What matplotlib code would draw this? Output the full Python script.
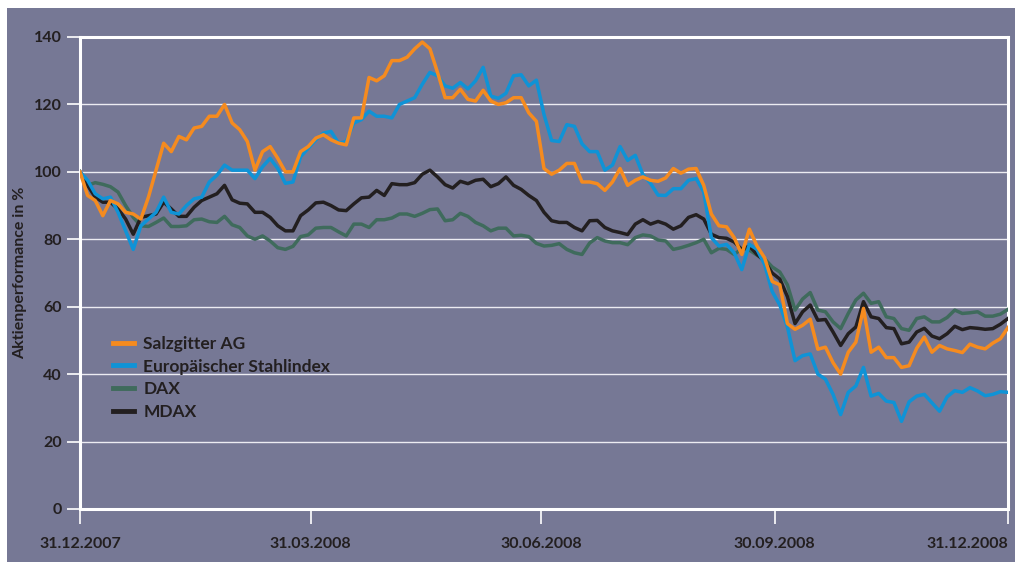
import numpy as np
import matplotlib.pyplot as plt
from matplotlib.patches import Rectangle

# trading grid: every 3rd calendar day from 31.12.2007 to 31.12.2008
days = np.arange(0, 367, 3)
dates = np.datetime64('2007-12-31') + days.astype('timedelta64[D]')

salzgitter = [
    100, 93, 91.5, 87, 91.5, 90.5, 88, 87.5, 86, 92.5, 100.5, 108.5, 106, 110.5, 109.5, 113,
    113.5, 116.5, 116.5, 120, 114.5, 112.5, 109, 100.5, 106, 107.5, 104, 100, 100, 106, 107.5,
    110, 111, 109.5, 108.5, 108, 116, 116, 128, 127, 128.5, 133, 133, 134, 136.5, 138.5,
    136.5, 129.5, 122, 122, 124.5, 121.5, 121, 124.2, 121, 120, 120.5, 122, 122, 117.5, 115,
    101, 99.3, 100.5, 102.5, 102.5, 97, 97, 96.5, 94.5, 97, 101, 96, 97.5, 98.5, 97.5,
    97.2, 98.2, 101, 99.6, 100.8, 101, 96, 87.5, 84, 83.7, 80.5, 75.5, 83, 78, 74.5,
    67.5, 66.5, 55, 53.3, 54.5, 56.3, 47.4, 48, 43.4, 40, 46.5, 49.5, 59.5, 46.5, 48,
    44.9, 44.9, 42, 42.5, 47.7, 51, 46.5, 48.5, 47.5, 47, 46.4, 48.9, 48, 47.5, 49.2, 50.5, 53.8]

stahlindex = [
    100, 97.5, 93.5, 92, 92.5, 88, 82.5, 77, 84, 86, 88, 92.5, 88, 87.5, 90, 92,
    92.5, 97, 99, 102, 100.5, 100.5, 100.5, 98, 101.5, 104, 101, 96.6, 97, 104.5, 107,
    109.5, 111.5, 112, 108.5, 109, 114.5, 115.5, 118, 116.5, 116.5, 116, 120, 121, 122, 126,
    129.5, 128.5, 125.5, 124.8, 126.5, 124.6, 127, 131, 122.5, 121.8, 123.3, 128.5, 128.8, 125.5, 127.2,
    117, 109.3, 109, 114, 113.5, 108.3, 106, 106, 100.5, 102, 107.5, 103.4, 104.9, 99.2, 96.6,
    93.1, 93, 95, 95, 97.5, 98, 94, 80.5, 78, 78.5, 76, 71, 78.5, 77, 72.5,
    64.5, 60.5, 54, 44, 45.5, 46, 40, 38.5, 34, 28, 34.6, 36.5, 42, 33.5, 34.3,
    32, 31.6, 26, 31.8, 33.5, 34, 31.5, 29, 33.3, 35.1, 34.6, 36, 35, 33.6, 34, 34.8, 34.6]

dax = [
    100, 96, 96.8, 96.3, 95.6, 94, 90, 86.5, 84, 83.8, 85, 86.3, 83.8, 83.8, 84, 85.8,
    86, 85.2, 85, 86.8, 84.3, 83.5, 81, 80, 81, 79.5, 77.5, 77, 77.9, 80.8, 81.3,
    83.3, 83.5, 83.5, 82.2, 81, 84.5, 84.5, 83.5, 85.8, 85.8, 86.3, 87.5, 87.5, 86.8, 87.7,
    88.8, 89, 85.5, 85.8, 87.7, 86.8, 85, 84, 82.5, 83.3, 83.3, 81, 81.2, 80.8, 78.8,
    78, 78.2, 78.7, 77, 76, 75.5, 78.9, 80.5, 79.5, 79, 79, 78.4, 80.5, 81.3, 81,
    79.8, 79.5, 77, 77.5, 78.2, 79, 80, 76, 77.3, 77, 75.5, 77.2, 76.8, 75.3, 74.2,
    71.8, 70.3, 66.5, 59, 62.3, 64.2, 59, 58.5, 55.5, 53.5, 58, 62, 64, 61, 61.5,
    57, 56.5, 53.5, 53, 56.5, 57, 55.5, 55.5, 56.8, 59, 58, 58.2, 58.5, 57.2, 57.2, 57.8, 59.2]

mdax = [
    100, 96, 92.5, 91, 91, 89, 86, 81.5, 86.5, 87, 87.5, 91, 89, 86.8, 86.8, 89.5,
    91.5, 92.5, 93.5, 96, 91.7, 90.7, 90.5, 88, 88, 86.5, 84, 82.5, 82.5, 87, 88.7,
    90.8, 91, 90, 88.7, 88.5, 90.5, 92.3, 92.5, 94.5, 93, 96.5, 96.2, 96.2, 96.8, 99.3,
    100.5, 98.5, 96.2, 95.2, 97.2, 96.5, 97.5, 97.8, 95.6, 96.5, 98.5, 96, 94.8, 93, 91.5,
    88, 85.5, 85, 85, 83.5, 82.5, 85.5, 85.6, 83.5, 82.5, 82, 81.4, 84.5, 85.8, 84.5,
    85.3, 84.5, 83, 84, 86.5, 87.3, 86, 81.5, 80.5, 80.3, 79.2, 77, 78, 75.5, 73.5,
    70, 68.2, 63, 55, 58.5, 60.5, 56, 56.2, 52.5, 48.5, 52, 54, 61.5, 57, 56.5,
    53.8, 53.5, 49, 49.5, 52.5, 53.6, 51.3, 50.5, 52, 54.2, 53.2, 53.8, 53.6, 53.3, 53.5, 54.8, 56.5]

tick_dates = ['2007-12-31', '2008-03-31', '2008-06-30', '2008-09-30', '2008-12-31']
tick_labels = ['31.12.2007', '31.03.2008', '30.06.2008', '30.09.2008', '31.12.2008']

bg = '#767895'
txt = '#231f20'
plt.rcParams['font.family'] = ['Lato', 'DejaVu Sans']

fig = plt.figure(figsize=(10.15, 5.62), dpi=100, facecolor='white')
fig.patches.append(Rectangle((7 / 1015, 0), 1, 554 / 562, transform=fig.transFigure,
                             facecolor=bg, edgecolor='none', zorder=-10))
ax = fig.add_axes([80 / 1015, 53 / 562, 928 / 1015, 472 / 562])
ax.set_facecolor(bg)

ax.plot(dates, dax, color='#3f6b5c', lw=2.5, label='DAX', zorder=3)
ax.plot(dates, mdax, color='#231f20', lw=2.5, label='MDAX', zorder=4)
ax.plot(dates, stahlindex, color='#0f93d6', lw=2.5, label='Europäischer Stahlindex', zorder=5)
ax.plot(dates, salzgitter, color='#f58b1f', lw=2.5, label='Salzgitter AG', zorder=6)

ax.set_ylim(0, 140)
ax.set_xlim(np.datetime64('2007-12-31'), np.datetime64('2008-12-31'))
ax.set_yticks(range(0, 141, 20))
ax.set_xticks([np.datetime64(d) for d in tick_dates])
ax.set_xticklabels(tick_labels)
ax.grid(axis='y', color='#ececf2', lw=1.0, zorder=1)
ax.set_axisbelow(True)

for s in ax.spines.values():
    s.set_color('white')
    s.set_linewidth(2.2)
ax.tick_params(axis='y', colors='white', length=9.5, width=1.2, pad=3.5, labelcolor=txt, labelsize=11.5)
ax.tick_params(axis='x', colors='white', length=11, width=1.2, pad=9, labelcolor=txt, labelsize=11.5)
for lab in ax.get_xticklabels() + ax.get_yticklabels():
    lab.set_fontweight('bold')
ax.get_xticklabels()[-1].set_horizontalalignment('right')

ax.set_ylabel('Aktienperformance in %', color=txt, fontsize=11.5, fontweight='bold')
ax.yaxis.set_label_coords(-0.057, 0.5)

h, l = ax.get_legend_handles_labels()
order = [3, 2, 0, 1]
leg = ax.legend([h[i] for i in order], [l[i] for i in order], loc='upper left',
                bbox_to_anchor=(0.026, 0.385), frameon=False, handlelength=1.2,
                handletextpad=0.55, labelspacing=0.38, borderpad=0,
                prop={'family': 'Lato', 'weight': 'bold', 'size': 12.5})
for t in leg.get_texts():
    t.set_color(txt)
for ln in leg.get_lines():
    ln.set_linewidth(3.5)

fig.savefig('out.png', dpi=100, facecolor=fig.get_facecolor())
